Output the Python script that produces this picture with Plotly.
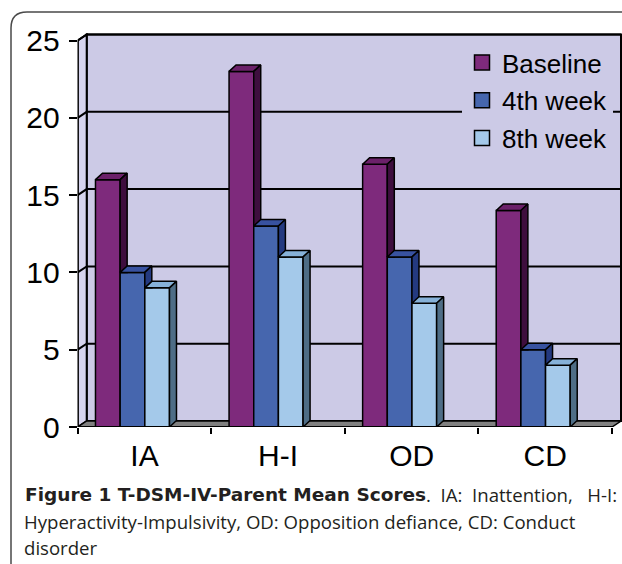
import plotly.graph_objects as go

# ---------------- data ----------------
categories = ["IA", "H-I", "OD", "CD"]
series_names = ["Baseline", "4th week", "8th week"]
baseline = [16, 23, 17, 14]
week4 = [10, 13, 11, 5]
week8 = [9, 11, 8, 4]
y_ticks = [0, 5, 10, 15, 20, 25]

# ---------------- style ----------------
W, H = 622, 564
front_colors = ["#7E2A7C", "#4666AE", "#A4C9EA"]
top_colors = ["#6B2169", "#3852A0", "#86B1D8"]
side_colors = ["#3E0E3E", "#243A80", "#4E6D86"]
wall_color = "#CCCAE6"
side_wall_color = "#D6D4EE"
floor_color = "#808080"

# pixel geometry of the plot box
px_left, px_right_axis, px_right = 77.7, 612.0, 622.0
py_zero, py_25, py_top = 427.0, 40.5, 33.0
kx = (px_right_axis - px_left) / len(categories)   # px per category
ky = (py_zero - py_25) / 25.0                       # px per unit
x0 = -0.5
x_end = x0 + (px_right - px_left) / kx
y_end = (py_zero - py_top) / ky

# depth offsets (in data units)
wdx, wdy = 9 / kx, 6 / ky      # wall depth
bdx, bdy = 7 / kx, 6.5 / ky    # bar depth
bw = 24.67 / kx                # bar width
gshift = -12 / kx              # group shift

series = [baseline, week4, week8]
n = len(categories)

fig = go.Figure()

# front faces (bar traces)
for j, vals in enumerate(series):
    fig.add_trace(go.Bar(
        x=list(range(n)), y=vals, name=series_names[j],
        width=bw, offset=gshift - 1.5 * bw + j * bw,
        marker=dict(color=front_colors[j], line=dict(color="black", width=1.5)),
        showlegend=False, hoverinfo="skip",
    ))

# 3D tops and sides
for i in range(n):
    for j, vals in enumerate(series):
        v = vals[i]
        xl = i + gshift - 1.5 * bw + j * bw
        xr = xl + bw
        fig.add_trace(go.Scatter(
            x=[xl, xr, xr + bdx, xl + bdx, xl], y=[v, v, v + bdy, v + bdy, v],
            fill="toself", fillcolor=top_colors[j], mode="lines",
            line=dict(color="black", width=1.5), showlegend=False, hoverinfo="skip"))
        lower = series[j + 1][i] if j + 1 < len(series) else 0
        lower_back = lower if j + 1 < len(series) else bdy
        fig.add_trace(go.Scatter(
            x=[xr, xr, xr + bdx, xr + bdx, xr],
            y=[lower, v, v + bdy, lower_back, lower],
            fill="toself", fillcolor=side_colors[j], mode="lines",
            line=dict(color="black", width=1.5), showlegend=False, hoverinfo="skip"))

# legend entries
for j in range(3):
    fig.add_trace(go.Scatter(
        x=[None], y=[None], mode="markers", name=series_names[j],
        marker=dict(symbol="square", size=15, color=front_colors[j],
                    line=dict(color="black", width=1.5)),
        legendgroup=str(j)))

shapes = []
shapes.append(dict(type="rect", xref="x", yref="y", layer="below",
                   x0=x0 + wdx, x1=x0 + n + wdx, y0=wdy, y1=25 + wdy,
                   fillcolor=wall_color, line=dict(color="black", width=2)))
shapes.append(dict(type="path", xref="x", yref="y", layer="below",
                   path=f"M{x0},0 L{x0},25 L{x0 + wdx},{25 + wdy} L{x0 + wdx},{wdy} Z",
                   fillcolor=side_wall_color, line=dict(color="black", width=2)))
for t in y_ticks[1:]:
    shapes.append(dict(type="path", xref="x", yref="y", layer="below",
                       path=f"M{x0},{t} L{x0 + wdx},{t + wdy} L{x0 + n + wdx},{t + wdy}",
                       line=dict(color="black", width=2)))
shapes.append(dict(type="path", xref="x", yref="y", layer="below",
                   path=f"M{x0},0 L{x0 + n},0 L{x0 + n + wdx},{wdy} L{x0 + wdx},{wdy} Z",
                   fillcolor=floor_color, line=dict(color="black", width=1.5)))
shapes.append(dict(type="line", xref="x", yref="y", x0=x0, x1=x0, y0=0, y1=25,
                   line=dict(color="black", width=2)))
shapes.append(dict(type="line", xref="x", yref="y", x0=x0, x1=x0 + n, y0=0, y1=0,
                   line=dict(color="black", width=2)))

def px(x):
    return x / W
def py(y):
    return 1 - y / H
shapes.append(dict(type="path", xref="paper", yref="paper",
                   path=(f"M{px(11)},{py(564)} L{px(11)},{py(28)} "
                         f"Q{px(11)},{py(12)} {px(27)},{py(12)} L{px(622)},{py(12)}"),
                   line=dict(color="#4a4a4a", width=1.5)))

cap_color = "#231F20"
bold_font = dict(family="DejaVu Sans", size=18.5, color=cap_color)
cap_font = dict(family="Open Sans", size=18.6, color=cap_color)
annotations = [
    dict(xref="paper", yref="paper", x=px(23), y=py(494), xanchor="left", yanchor="middle",
         showarrow=False, font=bold_font,
         text="<b>Figure 1 T-DSM-IV-Parent Mean Scores</b>"),
    dict(xref="paper", yref="paper", x=px(424), y=py(494), xanchor="left", yanchor="middle",
         showarrow=False, font=cap_font,
         text=".&nbsp; IA:&nbsp; Inattention,&nbsp;&nbsp; H-I:"),
    dict(xref="paper", yref="paper", x=px(22), y=py(521), xanchor="left", yanchor="middle",
         showarrow=False, font=cap_font,
         text="Hyperactivity-Impulsivity, OD: Opposition defiance, CD: Conduct"),
    dict(xref="paper", yref="paper", x=px(22), y=py(547), xanchor="left", yanchor="middle",
         showarrow=False, font=cap_font, text="disorder"),
]

axis_font = dict(family="Liberation Sans, Arial", size=30, color="black")

fig.update_layout(
    width=W, height=H,
    margin=dict(l=0, r=0, t=0, b=0, autoexpand=False),
    paper_bgcolor="white", plot_bgcolor="rgba(0,0,0,0)",
    barmode="overlay",
    shapes=shapes, annotations=annotations,
    xaxis=dict(domain=[px_left / W, 1.0], range=[x0, x_end],
               tickvals=[x0 + k for k in range(n + 1)], ticktext=[""] * (n + 1),
               ticks="outside", ticklen=6, tickwidth=2, tickcolor="black",
               showgrid=False, zeroline=False, showline=False, fixedrange=True),
    xaxis2=dict(domain=[px_left / W, 1.0], range=[x0, x_end], overlaying="x",
                anchor="y", side="bottom",
                tickvals=list(range(n)), ticktext=categories, ticks="",
                ticklabelstandoff=8,
                tickfont=axis_font, showgrid=False, zeroline=False, showline=False),
    yaxis=dict(domain=[(H - py_zero) / H, (H - py_top) / H], range=[0, y_end],
               tickvals=y_ticks, ticks="outside", ticklen=8, tickwidth=2,
               tickcolor="black", tickfont=axis_font, ticklabelstandoff=3,
               showgrid=False, zeroline=False, showline=False),
    legend=dict(x=px(462), y=py(39), xanchor="left", yanchor="top",
                bgcolor=wall_color, borderwidth=0,
                font=dict(family="Liberation Sans, Arial", size=26, color="black"),
                traceorder="grouped", tracegroupgap=1),
)
fig.add_trace(go.Scatter(x=[None], y=[None], xaxis="x2", yaxis="y", showlegend=False,
                         hoverinfo="skip"))

fig.write_html("out.html", config={"displayModeBar": False},
               post_script="document.body.style.margin='0';")
